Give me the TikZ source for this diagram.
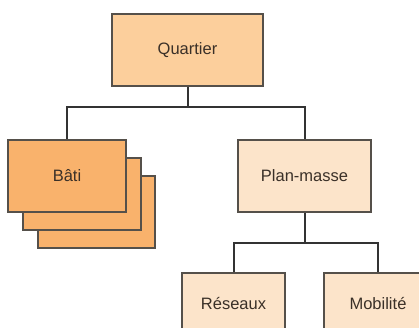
\documentclass[tikz,border=0pt]{standalone}
\usepackage{fontspec}
\setmainfont{Liberation Sans}
\definecolor{qfill}{HTML}{FCCF9C}
\definecolor{bfill}{HTML}{F9B26C}
\definecolor{pfill}{HTML}{FCE4CA}
\definecolor{edge}{HTML}{55504A}
\definecolor{cedge}{HTML}{333333}
\definecolor{txt}{HTML}{3A3028}
\begin{document}
\begin{tikzpicture}[x=1pt,y=-1pt,
  box/.style={draw=edge,line width=1.3pt,rectangle,inner sep=0pt,text=txt,font=\fontsize{16.5}{19}\selectfont},
  conn/.style={draw=cedge,line width=2pt}]
\useasboundingbox (0,0) rectangle (419,327);
\fill[white] (0,0) rectangle (419,327);
\clip (0,0) rectangle (419,327);
\node[box,fill=qfill,minimum width=151pt,minimum height=72pt] (q) at (187.5,50) {Quartier};
\node[box,fill=bfill,minimum width=117pt,minimum height=72pt] (bati3) at (96.5,212) {};
\node[box,fill=bfill,minimum width=118pt,minimum height=72pt] (bati2) at (82,194) {};
\node[box,fill=bfill,minimum width=118pt,minimum height=72pt] (bati) at (67,176) {Bâti};
\node[box,fill=pfill,minimum width=133pt,minimum height=72pt] (pm) at (304.5,176) {Plan-masse};
\node[box,fill=pfill,minimum width=103pt,minimum height=60pt] (res) at (233.5,303) {Réseaux};
\node[box,fill=pfill,minimum width=108pt,minimum height=60pt] (mob) at (378,303) {Mobilité};
\coordinate (j1) at (187.5,107);
\coordinate (j2) at (304.5,243);
\draw[conn] (q.south) -- (j1) -| (bati.north);
\draw[conn] (j1) -| (pm.north);
\draw[conn] (pm.south) -- (j2) -| (res.north);
\draw[conn] (j2) -| (mob.north);
\end{tikzpicture}
\end{document}
